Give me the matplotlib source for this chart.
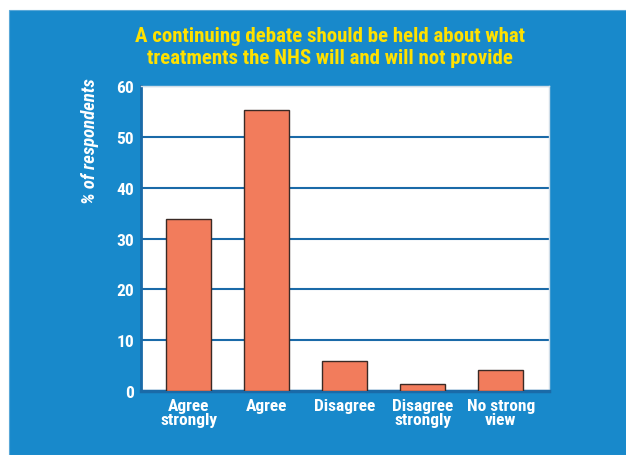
import matplotlib
matplotlib.use('Agg')
import matplotlib.pyplot as plt
from matplotlib.patches import Rectangle

categories = ['Agree\nstrongly', 'Agree', 'Disagree', 'Disagree\nstrongly', 'No strong\nview']
values = [33.8, 55.2, 6.0, 1.4, 4.1]
yticks = [0, 10, 20, 30, 40, 50, 60]
title = 'A continuing debate should be held about what\ntreatments the NHS will and will not provide'

BLUE = '#1889cb'
GRID = '#1a6aa8'
BAR = '#f27c5c'
YELLOW = '#ffe100'

plt.rcParams['font.family'] = ['Roboto Condensed', 'DejaVu Sans']

fig = plt.figure(figsize=(6.26, 4.56), dpi=100, facecolor='white')
# blue panel behind everything
fig.patches.append(Rectangle((9 / 626, 0), 1, 1 - 11 / 456, transform=fig.transFigure,
                             facecolor=BLUE, edgecolor='#5aa8d8', linewidth=0.8, zorder=-1))

ax = fig.add_axes([141 / 626, 64 / 456, 408 / 626, 305 / 456])
ax.set_facecolor('white')

x = range(len(categories))
ax.bar(x, values, width=0.577, color=BAR, edgecolor='#3a2a25', linewidth=1.0, zorder=3)

ax.set_xlim(-0.61, 4.62)
ax.set_ylim(0, 60)
ax.set_yticks(yticks)
ax.set_yticklabels([str(t) for t in yticks], color='white', fontweight='bold', fontsize=12.5)
ax.set_xticks(list(x))
ax.set_xticklabels(categories, color='white', fontweight='bold', fontsize=12.5, linespacing=0.95)
ax.tick_params(axis='both', length=0, pad=5)
ax.yaxis.grid(True, color=GRID, linewidth=1.5, zorder=1)
ax.set_axisbelow(True)

for side in ['top', 'right']:
    ax.spines[side].set_color('#d0dde8')
    ax.spines[side].set_linewidth(1.0)
ax.spines['bottom'].set_color(GRID)
ax.spines['bottom'].set_linewidth(2.5)
ax.spines['left'].set_color(GRID)
ax.spines['left'].set_linewidth(2.0)

fig.text(90 / 626, 1 - 141 / 456, '% of respondents', rotation=90,
         color='white', fontstyle='italic', fontweight='bold', fontsize=13.5,
         ha='center', va='center')

fig.text(330 / 626, 1 - 47 / 456, title, color=YELLOW, fontweight='heavy', fontsize=15,
         ha='center', va='center', linespacing=1.2)

fig.savefig('out.png', dpi=100, facecolor='white')
